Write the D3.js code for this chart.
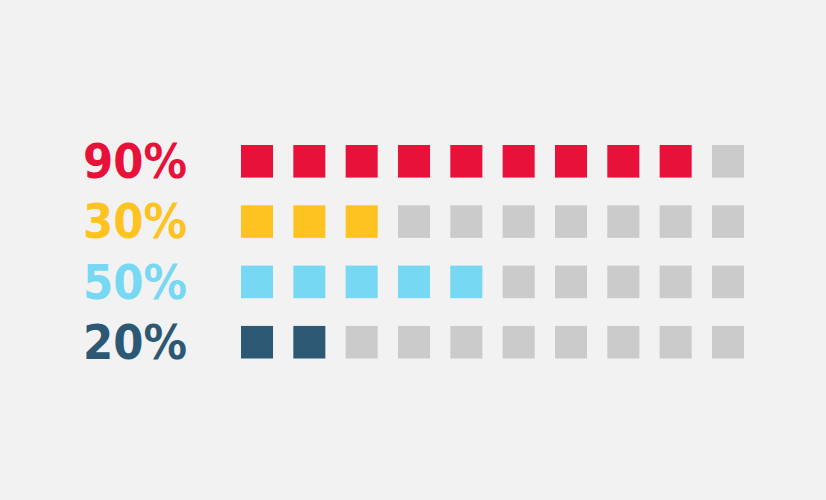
<!DOCTYPE html>
<html>
<head>
<meta charset="utf-8">
<script src="https://cdn.jsdelivr.net/npm/d3@7"></script>
<style>
  html, body { margin: 0; padding: 0; background: #f2f2f2; }
  text { font-family: "DejaVu Sans", sans-serif; font-weight: bold; }
</style>
</head>
<body>
<div id="vis"></div>
<script>
var width = 826;
var height = 500;

// the data
var labels = ["90%", "30%", "50%", "20%"];
var filled = [9, 3, 5, 2];
var colors = ["#e81139", "#fec321", "#76d8f3", "#2c5874"];
var totalSquares = 10;
var emptyColor = "#cbcbcb";

/* one band per row and per column */
var rowScale = d3.scaleBand()
    .domain(d3.range(labels.length))
    .range([145, 358.5])
    .paddingInner(0.46);

var colScale = d3.scaleBand()
    .domain(d3.range(totalSquares))
    .range([241, 744])
    .paddingInner(0.388);

var svg = d3.select("#vis")
    .append("svg")
    .attr("width", width)
    .attr("height", height);

svg.append("rect")
    .attr("width", width)
    .attr("height", height)
    .attr("fill", "#f2f2f2");

var rows = svg.selectAll(".row")
    .data(labels)
    .enter()
    .append("g")
    .attr("class", "row")
    .attr("transform", function(d, i) { return "translate(0," + rowScale(i) + ")"; });

/* percentage label, baseline on the bottom of the squares */
rows.append("text")
    .attr("x", 83)
    .attr("y", rowScale.bandwidth() + 0.5)
    .attr("font-size", 48)
    .attr("textLength", 104)
    .attr("lengthAdjust", "spacingAndGlyphs")
    .attr("fill", function(d, i) { return colors[i]; })
    .text(function(d) { return d; });

rows.each(function(d, i) {
    d3.select(this).selectAll("rect")
        .data(d3.range(totalSquares))
        .enter()
        .append("rect")
        .attr("x", function(c) { return colScale(c); })
        .attr("y", 0)
        .attr("width", colScale.bandwidth())
        .attr("height", rowScale.bandwidth())
        .attr("fill", function(c) { return c < filled[i] ? colors[i] : emptyColor; });
});
</script>
</body>
</html>
